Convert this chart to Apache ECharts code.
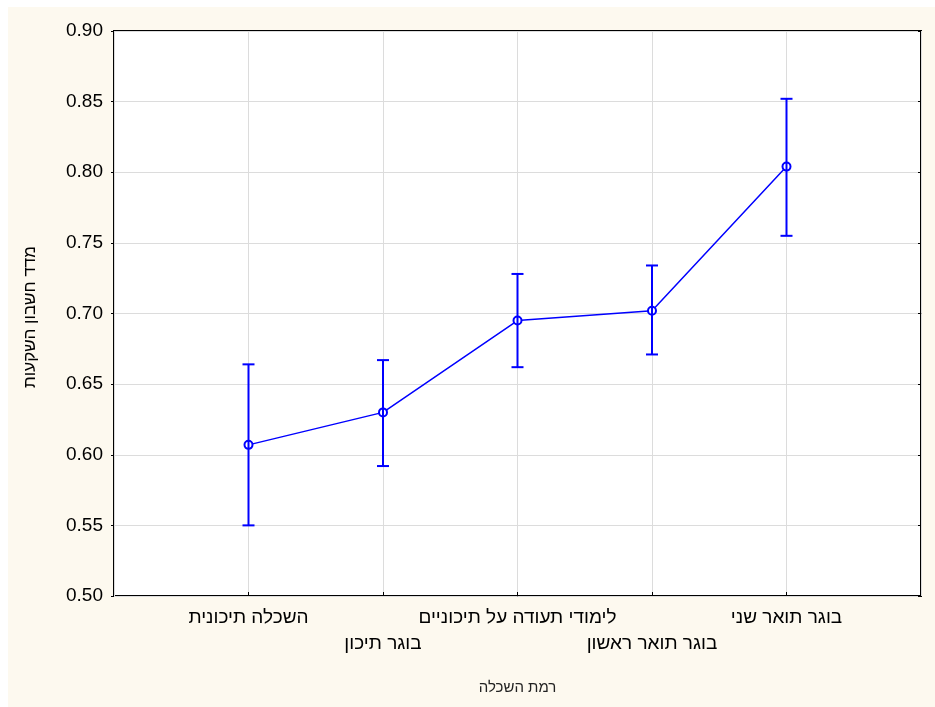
<!DOCTYPE html>
<html>
<head>
<meta charset="utf-8">
<script src="https://cdn.jsdelivr.net/npm/echarts@6/dist/echarts.min.js"></script>
<style>
html,body{margin:0;padding:0;background:#fff;width:935px;height:707px;overflow:hidden;}
#wrap{position:absolute;left:8px;top:7px;width:927px;height:700px;background:#fdf9ef;}
#chart{width:927px;height:700px;}
</style>
</head>
<body>
<div id="wrap"><div id="chart"></div></div>
<script>
const categories = ['השכלה תיכונית', 'בוגר תיכון', 'לימודי תעודה על תיכוניים', 'בוגר תואר ראשון', 'בוגר תואר שני'];
const means = [0.607, 0.630, 0.695, 0.702, 0.804];
const lower = [0.550, 0.592, 0.662, 0.671, 0.755];
const upper = [0.664, 0.667, 0.728, 0.734, 0.852];
const yTicks = { min: 0.50, max: 0.90, step: 0.05 };
const xTitle = 'רמת השכלה';
const yTitle = 'מדד חשבון השקעות';

const chart = echarts.init(document.getElementById('chart'), null, {renderer: 'canvas'});
const FONT = '"Liberation Sans", Arial, sans-serif';
const BLUE = '#0000ff';

const lineData = means.map((m, i) => [i + 1, m]);
const errData = means.map((m, i) => [i + 1, lower[i], upper[i]]);

chart.setOption({
  animation: false,
  backgroundColor: 'transparent',
  grid: {
    left: 106, right: 14, top: 24, bottom: 111,
    show: true, backgroundColor: '#ffffff', borderColor: '#000000', borderWidth: 2
  },
  xAxis: {
    type: 'value', min: 0, max: categories.length + 1, interval: 1,
    name: xTitle, nameLocation: 'middle', nameGap: 84,
    nameTextStyle: { fontFamily: FONT, fontSize: 15, color: '#222' },
    axisLine: { show: false },
    axisTick: { show: true, inside: true, length: 4, lineStyle: { color: '#000' } },
    splitLine: { show: true, lineStyle: { color: '#dcdcdc', width: 1 } },
    axisLabel: {
      fontFamily: FONT, fontSize: 19, color: '#000', margin: 9, lineHeight: 26,
      showMinLabel: false, showMaxLabel: false,
      formatter: function (v) {
        const i = Math.round(v) - 1;
        if (i < 0 || i >= categories.length) return '';
        return (i % 2 === 0) ? categories[i] : '\n' + categories[i];
      }
    }
  },
  yAxis: [{
    type: 'value', min: yTicks.min, max: yTicks.max, interval: yTicks.step,
    name: yTitle, nameLocation: 'middle', nameGap: 75, nameRotate: 90,
    nameTextStyle: { fontFamily: FONT, fontSize: 17, color: '#000', padding: [0, 7, 0, 0] },
    axisLine: { show: false },
    axisTick: { show: true, inside: false, length: 3, lineStyle: { color: '#000' } },
    splitLine: { show: true, lineStyle: { color: '#dcdcdc', width: 1 } },
    axisLabel: {
      fontFamily: FONT, fontSize: 19, color: '#000', margin: 11,
      formatter: v => v.toFixed(2)
    }
  }, {
    type: 'value', position: 'right', min: yTicks.min, max: yTicks.max, interval: yTicks.step,
    axisLine: { show: false },
    axisTick: { show: true, inside: true, length: 3, lineStyle: { color: '#000' } },
    splitLine: { show: false },
    axisLabel: { show: false }
  }],
  series: [{
    type: 'line', data: lineData, z: 3,
    lineStyle: { color: BLUE, width: 1.5 },
    symbol: 'emptyCircle', symbolSize: 8,
    itemStyle: { color: BLUE, borderColor: BLUE, borderWidth: 1.5 }
  }, {
    type: 'custom', data: errData, z: 4,
    encode: { x: 0, y: [1, 2] },
    renderItem: function (params, api) {
      const x = api.value(0);
      const lo = api.coord([x, api.value(1)]);
      const hi = api.coord([x, api.value(2)]);
      const hw = 6;
      const style = { stroke: BLUE, lineWidth: 2, fill: null };
      return {
        type: 'group',
        children: [
          { type: 'line', shape: { x1: lo[0], y1: lo[1], x2: hi[0], y2: hi[1] }, style: style },
          { type: 'line', shape: { x1: lo[0] - hw, y1: lo[1], x2: lo[0] + hw, y2: lo[1] }, style: style },
          { type: 'line', shape: { x1: hi[0] - hw, y1: hi[1], x2: hi[0] + hw, y2: hi[1] }, style: style }
        ]
      };
    }
  }]
});
</script>
</body>
</html>
